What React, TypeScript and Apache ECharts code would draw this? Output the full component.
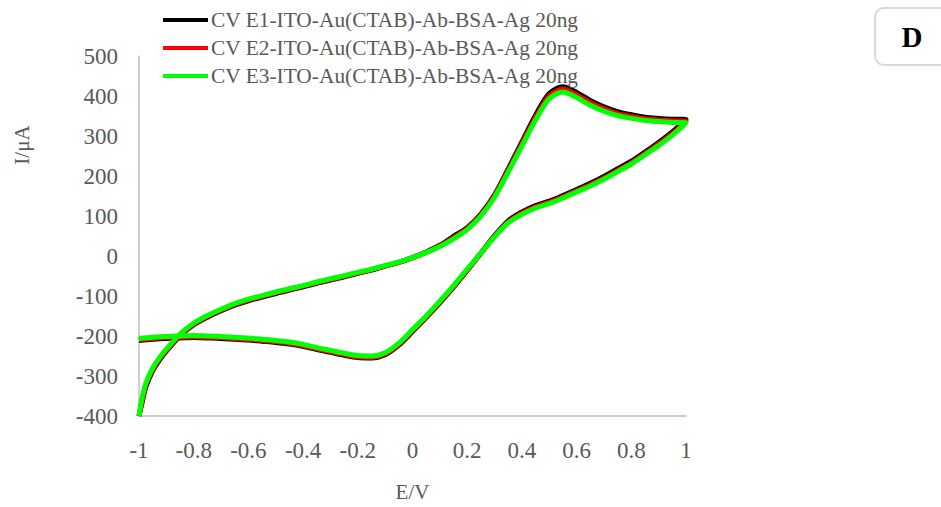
import React, { useEffect, useRef } from "react";
import * as echarts from "echarts";

// Forward (anodic) scan potentials, V
const potentialFwd = [-1, -0.99, -0.975, -0.95, -0.925, -0.9, -0.85, -0.8, -0.75, -0.7, -0.65, -0.6, -0.55, -0.5, -0.45, -0.4, -0.35, -0.3, -0.25, -0.2, -0.15, -0.1, -0.05, 0, 0.05, 0.1, 0.15, 0.2, 0.25, 0.3, 0.35, 0.4, 0.45, 0.5, 0.55, 0.6, 0.65, 0.7, 0.75, 0.8, 0.85, 0.9, 0.95, 1];
// Reverse (cathodic) scan potentials, V
const potentialRev = [0.95, 0.9, 0.85, 0.8, 0.75, 0.7, 0.65, 0.6, 0.55, 0.5, 0.45, 0.4, 0.35, 0.3, 0.25, 0.2, 0.15, 0.1, 0.05, 0, -0.05, -0.1, -0.15, -0.2, -0.25, -0.3, -0.35, -0.4, -0.45, -0.5, -0.55, -0.6, -0.65, -0.7, -0.75, -0.8, -0.85, -0.9, -0.95, -1];

// Currents, µA
const currentFwdE1 = [-400, -370, -327, -287, -260, -238, -200, -172, -153, -137, -123, -112, -103, -94, -85, -77, -68, -60, -52, -43, -35, -25, -16, -4, 10, 27, 49, 71, 105, 153, 218, 285, 352, 406, 423, 409, 389, 373, 361, 353, 347, 344, 342, 341];
const currentRevE1 = [310, 284, 260, 237, 218, 199, 182, 166, 151, 137, 126, 110, 88, 51, 7, -36, -78, -117, -154, -189, -223, -247, -255, -254, -248, -241, -234, -226, -220, -216, -213, -210, -208, -206, -205, -204, -205, -206, -208, -211];

const currentFwdE2 = [-400, -365, -322, -284, -257, -236, -198, -170, -151, -135, -121, -110, -101, -92, -83, -75, -67, -59, -51, -42, -34, -25, -16, -4, 9, 25, 46, 68, 102, 150, 214, 280, 346, 400, 417, 403, 383, 368, 356, 349, 343, 340, 338, 337];
const currentRevE2 = [306, 280, 256, 233, 214, 195, 178, 163, 148, 134, 123, 107, 85, 49, 7, -35, -76, -115, -152, -187, -221, -245, -253, -252, -246, -239, -232, -224, -218, -214, -211, -208, -206, -204, -203, -202, -203, -204, -206, -209];

const currentFwdE3 = [-400, -360, -318, -280, -254, -233, -195, -168, -149, -133, -119, -108, -99, -90, -82, -74, -65, -57, -49, -41, -33, -24, -15, -4, 9, 24, 43, 66, 100, 147, 210, 275, 340, 393, 410, 396, 377, 362, 351, 344, 339, 336, 334, 333];
const currentRevE3 = [302, 276, 253, 230, 211, 192, 175, 160, 145, 131, 120, 104, 83, 48, 7, -33, -74, -113, -150, -184, -218, -242, -250, -249, -243, -236, -229, -221, -215, -211, -208, -205, -203, -201, -200, -199, -200, -201, -203, -206];

const seriesNames = [
  "CV E1-ITO-Au(CTAB)-Ab-BSA-Ag 20ng",
  "CV E2-ITO-Au(CTAB)-Ab-BSA-Ag 20ng",
  "CV E3-ITO-Au(CTAB)-Ab-BSA-Ag 20ng",
];
const seriesColors = ["#000000", "#ff0000", "#00ff00"];

const xTicks = { min: -1, max: 1, interval: 0.2 };
const yTicks = { min: -400, max: 500, interval: 100 };

function loop(fwd: number[], rev: number[]) {
  const pts: number[][] = [];
  potentialFwd.forEach((x, i) => pts.push([x, fwd[i]]));
  potentialRev.forEach((x, i) => pts.push([x, rev[i]]));
  return pts;
}

const FONT = "'Liberation Serif', 'Times New Roman', serif";
const GRAY = "#595959";

export default function App() {
  const ref = useRef<HTMLDivElement>(null);
  useEffect(() => {
    document.body.style.margin = "0";
    const chart = echarts.init(ref.current!, null, { renderer: "svg" });
    const data = [
      loop(currentFwdE1, currentRevE1),
      loop(currentFwdE2, currentRevE2),
      loop(currentFwdE3, currentRevE3),
    ];
    chart.setOption({
      animation: false,
      backgroundColor: "#ffffff",
      textStyle: { fontFamily: FONT },
      grid: { left: 139, right: 255, top: 56, bottom: 90, containLabel: false },
      legend: {
        orient: "vertical",
        left: 163,
        top: 6,
        padding: 0,
        itemGap: 0,
        itemWidth: 45,
        itemHeight: 4,
        icon: "rect",
        data: seriesNames,
        textStyle: { fontFamily: FONT, fontSize: 21.4, color: GRAY, lineHeight: 28, padding: [0, 0, 0, -2] },
      },
      xAxis: {
        type: "value",
        min: xTicks.min,
        max: xTicks.max,
        interval: xTicks.interval,
        name: "E/V",
        nameLocation: "middle",
        nameGap: 65,
        nameTextStyle: { fontFamily: FONT, fontSize: 21, color: GRAY },
        axisLine: { show: true, onZero: false, lineStyle: { color: "#bfbfbf", width: 1.5 } },
        axisTick: { show: false },
        splitLine: { show: false },
        axisLabel: { fontFamily: FONT, fontSize: 23, color: GRAY, margin: 23 },
      },
      yAxis: {
        type: "value",
        min: yTicks.min,
        max: yTicks.max,
        interval: yTicks.interval,
        axisLine: { show: true, onZero: false, lineStyle: { color: "#bfbfbf", width: 1.5 } },
        axisTick: { show: false },
        splitLine: { show: false },
        axisLabel: { fontFamily: FONT, fontSize: 23, color: GRAY, margin: 21, padding: [5, 0, 0, 0] },
      },
      graphic: [
        {
          type: "text",
          x: 22,
          y: 145,
          rotation: Math.PI / 2,
          style: { text: "I/μA", font: `21px ${FONT}`, fill: GRAY, align: "center", verticalAlign: "middle" },
        },
        {
          type: "rect",
          shape: { x: 875, y: 8, width: 90, height: 57, r: 9 },
          style: { fill: "#ffffff", stroke: "#d9d9d9", lineWidth: 2 },
        },
        {
          type: "text",
          x: 912,
          y: 37,
          style: { text: "D", font: `bold 29px ${FONT}`, fill: "#000000", align: "center", verticalAlign: "middle" },
        },
      ],
      series: seriesNames.map((name, i) => ({
        name,
        type: "line",
        data: data[i],
        showSymbol: false,
        symbol: "none",
        smooth: 0.3,
        color: seriesColors[i],
        lineStyle: { color: seriesColors[i], width: 5 },
        z: 2 + i,
      })),
    });
    return () => chart.dispose();
  }, []);
  return <div ref={ref} style={{ width: 941, height: 507 }} />;
}
